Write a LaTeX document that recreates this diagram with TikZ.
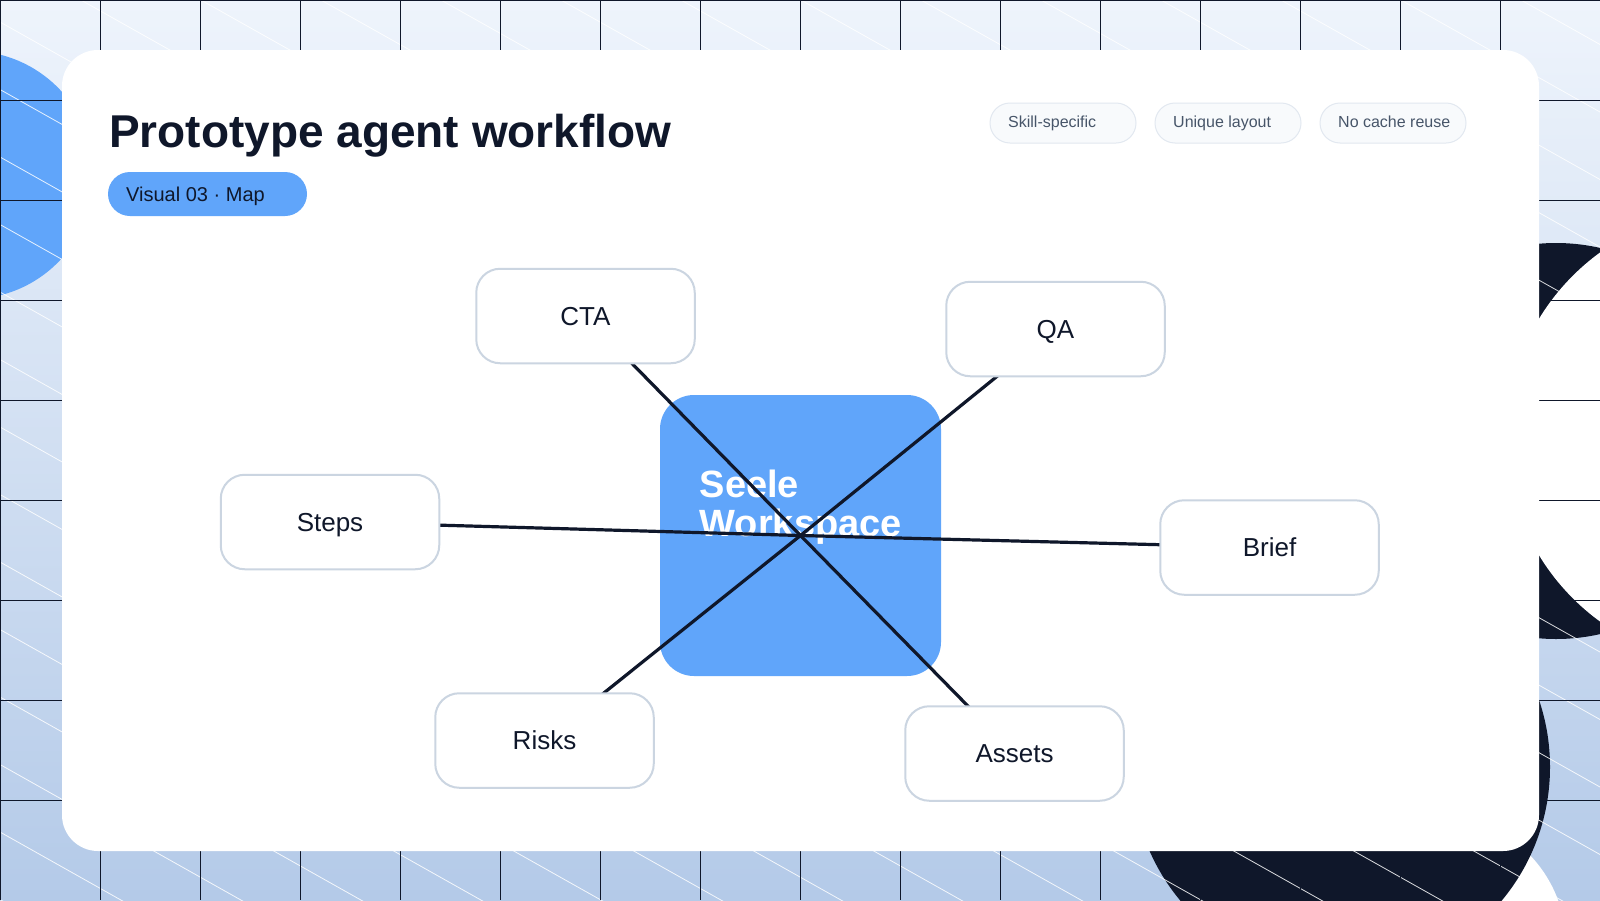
\documentclass[tikz,border=0pt]{standalone}
\usepackage{fontspec}
\setmainfont{Liberation Sans}
\usetikzlibrary{backgrounds}
\definecolor{ink}{HTML}{0F172A}
\definecolor{sky}{HTML}{60A5FA}
\definecolor{edge}{HTML}{CBD5E1}
\definecolor{pilltxt}{HTML}{475569}
\definecolor{pillfill}{HTML}{F8FAFC}
\definecolor{pilledge}{HTML}{E2E8F0}
\definecolor{bgA}{HTML}{F8FBFF}
\definecolor{bgB}{HTML}{D6E3F5}
\definecolor{bgC}{HTML}{AAC3E5}
\pgfdeclarelayer{hub}
\pgfdeclarelayer{links}
\pgfsetlayers{background,hub,links,main}
\tikzset{
  x=1pt,y=-1pt,
  mapbox/.style={draw=edge,line width=2pt,fill=white,rounded corners=24pt,minimum width=218.5pt,minimum height=94.5pt,inner sep=0pt,text=ink,text height=23pt,text depth=5pt,font=\fontsize{26}{30}\selectfont},
  pill/.style={draw=pilledge,line width=1pt,fill=pillfill,rounded corners=20pt,minimum width=146pt,minimum height=40pt,inner sep=0pt},
  pilltext/.style={text=pilltxt,font=\fontsize{16}{20}\selectfont,inner sep=0pt,anchor=base west},
  link/.style={draw=ink,line width=3.2pt},
  gridline/.style={draw=ink,line width=1pt},
  shine/.style={draw=white,line width=0.8pt,opacity=0.85},
  hubtext/.style={anchor=base west,inner sep=0pt,text=white,font=\fontsize{38}{38.5}\selectfont\bfseries}
}
\begin{document}
\begin{tikzpicture}
\useasboundingbox (0,0) rectangle (1600,900);
\begin{pgfonlayer}{background}
\begin{scope}
\clip (0,0) rectangle (1600,900);
\shade[rotate around={5:(800,450)},top color=bgA,middle color=bgB,bottom color=bgC] (-150,-70) rectangle (1750,970);
\fill[sky] (-30,175) circle[radius=124];
\fill[white] (1436,945) circle[radius=130];
\fill[ink] (1341,767) circle[radius=209];
\fill[ink] (1556,441) circle[radius=198];
\fill[white] (1734,437) circle[radius=228];
\foreach \k in {-24,...,14} {
  \draw[shine] (0,22+67.5*\k) -- (1600,22+67.5*\k+900);
}
\foreach \v in {0,100,...,1500} { \draw[gridline] (\v+0.5,0) -- (\v+0.5,900); }
\foreach \h in {0,100,...,800} { \draw[gridline] (0,\h+0.5) -- (1600,\h+0.5); }
\end{scope}
\node[fill=white,rounded corners=36pt,minimum width=1477pt,minimum height=801pt,inner sep=0pt] (card) at (800.5,450.5) {};
\end{pgfonlayer}
\node[anchor=base west,inner sep=0pt,text=ink,font=\fontsize{46}{50}\selectfont\bfseries] (title) at (109,147) {Prototype agent workflow};
\node[fill=sky,rounded corners=22pt,minimum width=199pt,minimum height=44pt,inner sep=0pt] (badge) at (207.5,194) {};
\node[anchor=base west,inner sep=0pt,text=ink,font=\fontsize{20}{24}\selectfont] (badgetext) at (126,201) {Visual 03 · Map};
\node[pill] (p1) at (1063,123) {};
\node[pill] (p2) at (1228,123) {};
\node[pill] (p3) at (1393,123) {};
\node[pilltext] (t1) at (1008,127) {Skill-specific};
\node[pilltext] (t2) at (1173,127) {Unique layout};
\node[pilltext] (t3) at (1338,127) {No cache reuse};
\begin{pgfonlayer}{hub}
\node[fill=sky,rounded corners=34pt,minimum width=281pt,minimum height=281pt,inner sep=0pt] (hub) at (800.5,535.5) {};
\node[hubtext] (hubtext1) at (699.5,497.5) {Seele};
\node[hubtext] (hubtext2) at (699.5,536.5) {Workspace};
\end{pgfonlayer}
\node[mapbox] (cta) at (585.5,316) {CTA};
\node[mapbox] (qa) at (1055.5,329) {QA};
\node[mapbox] (steps) at (330,522) {Steps};
\node[mapbox] (brief) at (1269.5,547.5) {Brief};
\node[mapbox] (risks) at (544.5,740.5) {Risks};
\node[mapbox] (assets) at (1014.5,753.5) {Assets};
\begin{pgfonlayer}{links}
\foreach \n in {cta,qa,steps,brief,risks,assets} { \draw[link] (hub.center) -- (\n.center); }
\end{pgfonlayer}
\end{tikzpicture}
\end{document}
